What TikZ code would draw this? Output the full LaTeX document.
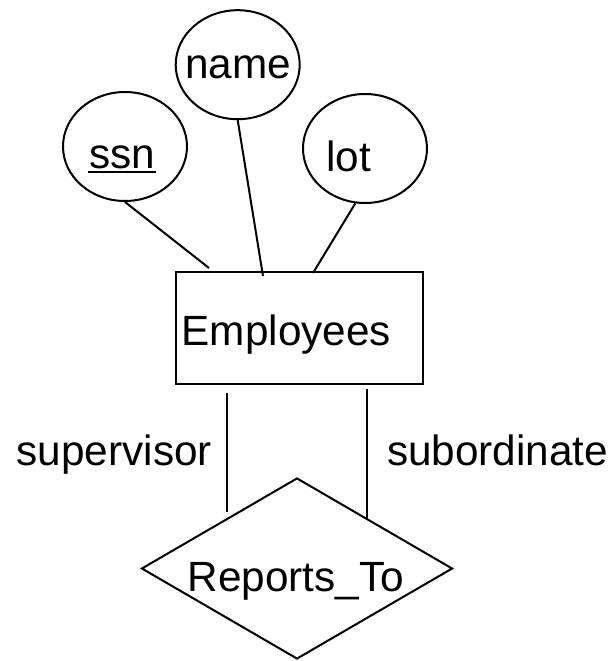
\documentclass[tikz,border=0pt]{standalone}
\usepackage{fontspec}
\setmainfont{Liberation Sans}
\usetikzlibrary{shapes}
\usetikzlibrary{calc}
\newcommand\attr[6]{
  \node[attrib] (#1) at (#2,#3) {};
  \node[lbl] (#1 text) at (#4,#5) {#6};
}

\begin{document}
\begin{tikzpicture}[x=1pt,y=-1pt,line width=2pt,
  attrib/.style={draw, ellipse, minimum width=124pt, minimum height=109pt, inner sep=0pt},
  lbl/.style={anchor=base, inner sep=0pt, font=\fontsize{42.3}{50}\selectfont}]
\useasboundingbox (0,0) rectangle (610,661);

\attr{ssn}{125}{146.5}{122}{168}{ssn};
\attr{name}{237.7}{64.7}{238}{78}{name};
\attr{lot}{365}{148.5}{348.5}{171}{lot};
\draw ($(ssn text.base west)+(0,4)$) -- ($(ssn text.base east)+(0,4)$);

\node[draw, minimum width=247pt, minimum height=112pt, inner sep=0pt] (emp) at (299.5,328) {};
\node[lbl] (emp text) at (286.3,345) {Employees};

\node[draw, diamond, minimum width=311pt, minimum height=181pt, inner sep=0pt] (rel) at (297,568.5) {};
\node[lbl] (rel text) at (295.7,591.7) {Reports\_To};

\draw (ssn.south) -- ($(emp.north west)+(34,-3)$);
\draw (name.south) -- ($(emp.north west)+(88,5)$);
\draw (lot.-100) -- ($(emp.north west)+(138,2)$);

\coordinate (sup bot) at ($(rel.west)!0.55!(rel.north)+(0,-6)$);
\coordinate (sup top) at ($(sup bot |- emp.south)+(0,8)$);
\coordinate (sub bot) at ($(rel.north)!0.45!(rel.east)$);
\coordinate (sub top) at ($(sub bot |- emp.south)+(0,4)$);
\draw (sup top) -- (sup bot);
\draw (sub top) -- (sub bot);

\node[lbl] (sup) at (114.3,465) {supervisor};
\node[lbl] (sub) at (497.7,465) {subordinate};

\end{tikzpicture}
\end{document}
